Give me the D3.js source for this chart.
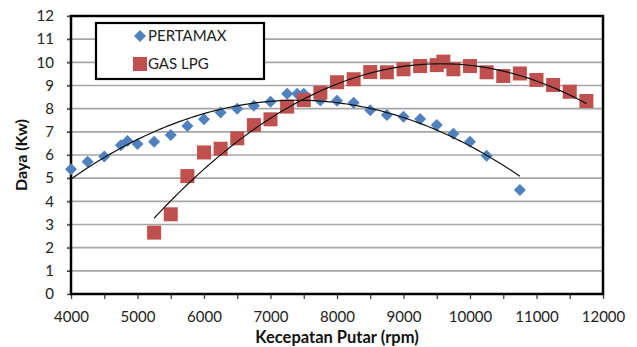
<!DOCTYPE html>
<html>
<head>
<meta charset="utf-8">
<script src="https://cdn.jsdelivr.net/npm/d3@7"></script>
<style>
  body { margin: 0; background: #fff; }
  svg { display: block; font-family: Lato, "Open Sans", sans-serif; }
</style>
</head>
<body>
<div id="chart"></div>
<script>
// Daya vs putaran mesin
var pertamaxRpm = [4000, 4250, 4500, 4750, 4850, 5000, 5250, 5500, 5750, 6000, 6250, 6500, 6750, 7000,
                   7250, 7400, 7500, 7750, 8000, 8250, 8500, 8750, 9000, 9250, 9500, 9750, 10000, 10250, 10750];
var pertamaxDaya = [5.38, 5.71, 5.93, 6.42, 6.6, 6.47, 6.57, 6.86, 7.25, 7.54, 7.83, 8.0, 8.13, 8.3,
                    8.64, 8.64, 8.64, 8.35, 8.34, 8.26, 7.93, 7.73, 7.65, 7.55, 7.29, 6.92, 6.57, 5.97, 4.49];

var lpgRpm = [5250, 5500, 5750, 6000, 6250, 6500, 6750, 7000, 7250, 7500, 7750, 8000, 8250, 8500,
              8750, 9000, 9250, 9500, 9600, 9750, 10000, 10250, 10500, 10750, 11000, 11250, 11500, 11750];
var lpgDaya = [2.65, 3.44, 5.09, 6.11, 6.27, 6.72, 7.29, 7.54, 8.09, 8.37, 8.69, 9.14, 9.27, 9.58,
               9.57, 9.7, 9.84, 9.88, 10.03, 9.7, 9.84, 9.57, 9.41, 9.52, 9.24, 9.02, 8.73, 8.33];

var xTicks = [4000, 5000, 6000, 7000, 8000, 9000, 10000, 11000, 12000];
var xMinorTicks = d3.range(4000, 12001, 500);
var yTicks = d3.range(0, 13, 1);
var legendNames = ["PERTAMAX", "GAS LPG"];

var blue = "#4f81bd";
var red = "#c0504d";

var W = 637, H = 347;
var margins = {top: 16, right: 34, bottom: 53, left: 71};
var width = W - margins.left - margins.right;
var height = H - margins.top - margins.bottom;

var svg = d3.select("#chart").append("svg").attr("width", W).attr("height", H);
var chart = svg.append("g")
    .attr("transform", "translate(" + margins.left + "," + margins.top + ")");

var xScale = d3.scaleLinear().domain([4000, 12000]).range([0, width]);
var yScale = d3.scaleLinear().domain([0, 12]).range([height, 0]);

// grid lines
chart.append("g").selectAll("line").data(yTicks.slice(1)).enter().append("line")
    .attr("x1", -4).attr("x2", width)
    .attr("y1", function(d) { return yScale(d); })
    .attr("y2", function(d) { return yScale(d); })
    .attr("stroke", "#a6a6a6").attr("stroke-width", 1.6);

// axes
var xAxis = d3.axisBottom(xScale).tickValues(xMinorTicks).tickSize(5)
    .tickFormat(function(d) { return xTicks.indexOf(d) >= 0 ? d : ""; });
var yAxis = d3.axisLeft(yScale).tickValues(yTicks).tickSize(4).tickPadding(13);

var xAxisSVG = chart.append("g").attr("transform", "translate(0," + height + ")").call(xAxis);
var yAxisSVG = chart.append("g").call(yAxis);

[xAxisSVG, yAxisSVG].forEach(function(a) {
  a.select(".domain").remove();
  a.selectAll("line").attr("stroke", "#444").attr("stroke-width", 1.3);
  a.selectAll("text").attr("fill", "#222").attr("font-size", 15)
    .attr("font-family", "Lato, 'Open Sans', sans-serif");
});
xAxisSVG.selectAll("text").attr("dy", "1.35em");

// frame
chart.append("rect")
    .attr("x", 0).attr("y", 0).attr("width", width).attr("height", height)
    .attr("fill", "none").attr("stroke", "#000").attr("stroke-width", 2.5);

// least squares polynomial, same kind of trendline Excel draws
function polyFit(xs, ys, order) {
  var n = order + 1;
  var A = [], b = [];
  for (var i = 0; i < n; i++) {
    A.push(new Array(n).fill(0));
    b.push(0);
  }
  xs.forEach(function(x, k) {
    var t = x / 1000 - 8;
    for (var i = 0; i < n; i++) {
      b[i] += ys[k] * Math.pow(t, i);
      for (var j = 0; j < n; j++) A[i][j] += Math.pow(t, i + j);
    }
  });
  for (var c = 0; c < n; c++) {
    var p = c;
    for (var r = c + 1; r < n; r++) if (Math.abs(A[r][c]) > Math.abs(A[p][c])) p = r;
    var tmp = A[c]; A[c] = A[p]; A[p] = tmp;
    var tb = b[c]; b[c] = b[p]; b[p] = tb;
    for (var r2 = c + 1; r2 < n; r2++) {
      var f = A[r2][c] / A[c][c];
      for (var j2 = c; j2 < n; j2++) A[r2][j2] -= f * A[c][j2];
      b[r2] -= f * b[c];
    }
  }
  var coef = new Array(n).fill(0);
  for (var i2 = n - 1; i2 >= 0; i2--) {
    var s = b[i2];
    for (var j3 = i2 + 1; j3 < n; j3++) s -= A[i2][j3] * coef[j3];
    coef[i2] = s / A[i2][i2];
  }
  return function(x) {
    var t = x / 1000 - 8, v = 0;
    for (var i = 0; i < n; i++) v += coef[i] * Math.pow(t, i);
    return v;
  };
}

var line = d3.line()
    .x(function(d) { return xScale(d[0]); })
    .y(function(d) { return yScale(d[1]); });

function drawTrend(xs, ys) {
  var fn = polyFit(xs, ys, 2);
  var pts = d3.range(xs[0], xs[xs.length - 1] + 1, 50).map(function(x) { return [x, fn(x)]; });
  chart.append("path").datum(pts)
      .attr("d", line)
      .attr("fill", "none").attr("stroke", "#111").attr("stroke-width", 1.2);
}

// markers
var diamond = d3.symbol().type(d3.symbolSquare).size(72);
chart.append("g").selectAll("path").data(pertamaxRpm).enter().append("path")
    .attr("d", diamond)
    .attr("transform", function(d, i) {
      return "translate(" + xScale(d) + "," + yScale(pertamaxDaya[i]) + ") rotate(45)";
    })
    .attr("fill", blue);

chart.append("g").selectAll("rect").data(lpgRpm).enter().append("rect")
    .attr("x", function(d) { return xScale(d) - 7; })
    .attr("y", function(d, i) { return yScale(lpgDaya[i]) - 7; })
    .attr("width", 14).attr("height", 14)
    .attr("fill", red);

drawTrend(pertamaxRpm, pertamaxDaya);
drawTrend(lpgRpm, lpgDaya);

// legend
var legend = svg.append("g").attr("transform", "translate(96,23)");
legend.append("rect").attr("width", 168).attr("height", 56)
    .attr("fill", "#fff").attr("stroke", "#000").attr("stroke-width", 2.2);
legend.append("path").attr("d", diamond)
    .attr("transform", "translate(44,13) rotate(45)").attr("fill", blue);
legend.append("rect").attr("x", 37).attr("y", 34).attr("width", 14).attr("height", 14).attr("fill", red);
legend.selectAll("text").data(legendNames).enter().append("text")
    .attr("x", 52)
    .attr("y", function(d, i) { return 13 + i * 28; })
    .attr("dy", "0.35em")
    .attr("font-size", 15).attr("fill", "#222")
    .text(function(d) { return d; });

// axis titles
svg.append("text")
    .attr("x", margins.left + width / 2).attr("y", 343)
    .attr("text-anchor", "middle").attr("font-weight", "bold").attr("font-size", 16.5)
    .attr("fill", "#111")
    .text("Kecepatan Putar (rpm)");

svg.append("text")
    .attr("transform", "translate(27," + (margins.top + height / 2) + ") rotate(-90)")
    .attr("text-anchor", "middle").attr("font-weight", "bold").attr("font-size", 16)
    .attr("fill", "#111")
    .text("Daya  (Kw)");
</script>
</body>
</html>
